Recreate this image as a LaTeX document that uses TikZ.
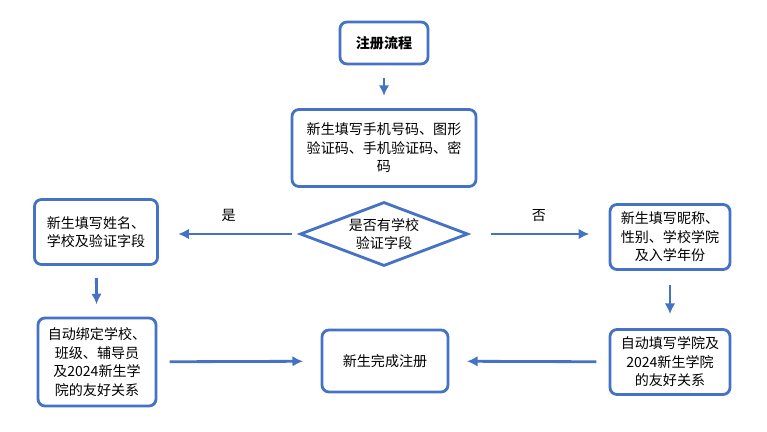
\documentclass[tikz,border=0pt]{standalone}
\usepackage{fontspec}
\newfontfamily\cjk{Noto Sans CJK SC}
\usetikzlibrary{shapes.geometric,arrows.meta}
\definecolor{boxblue}{HTML}{4472C4}

\begin{document}
\begin{tikzpicture}[x=0.02cm, y=-0.02cm, >={Latex[length=6pt,width=6pt]},
  box/.style={draw=boxblue, line width=1.6pt, rounded corners=4pt, align=center,
    inner sep=2pt, font=\cjk\fontsize{8}{10.5}\selectfont},
  arr/.style={->, draw=boxblue, line width=1.6pt, shorten >=7pt, shorten <=7pt},
  lbl/.style={font=\cjk\fontsize{8}{10}\selectfont, text=black}]
\useasboundingbox (0,0) rectangle (767,432);
%nodes
\node[box, minimum width=88*0.02cm, minimum height=42*0.02cm, font=\cjk\bfseries\fontsize{8}{10.5}\selectfont] (start) at (384,43) {注册流程};
\node[box, minimum width=184*0.02cm, minimum height=77*0.02cm] (fill) at (384,148) {新生填写手机号码、图形\\验证码、手机验证码、密\\码};
\node[box, diamond, rounded corners=0pt, aspect=2.6, minimum width=168*0.02cm, minimum height=64*0.02cm, inner sep=0pt] (check) at (384,234) {是否有学校\\验证字段};
\node[box, minimum width=123*0.02cm, minimum height=65*0.02cm] (left1) at (96,232) {新生填写姓名、\\学校及验证字段};
\node[box, minimum width=120*0.02cm, minimum height=65*0.02cm] (right1) at (670,237) {新生填写昵称、\\性别、学校学院\\及入学年份};
\node[box, minimum width=118*0.02cm, minimum height=88*0.02cm] (left2) at (97,362) {自动绑定学校、\\班级、辅导员\\及2024新生学\\院的友好关系};
\node[box, minimum width=126*0.02cm, minimum height=62*0.02cm] (done) at (385,361) {新生完成注册};
\node[box, minimum width=120*0.02cm, minimum height=65*0.02cm] (right2) at (670,362) {自动填写学院及\\2024新生学院\\的友好关系};
\coordinate (yes) at (left1.east |- check);
\coordinate (no) at (right1.west |- check);
%connectors
\draw[arr, shorten <=4pt, shorten >=11pt] (check) -- node[above=3pt, lbl] {是} (yes);
\draw[arr, shorten <=12pt, shorten >=11pt] (check) -- node[above=3pt, lbl] {否} (no);
\draw[arr] (start) -- (fill);
\draw[arr] (left1) -- (left2);
\draw[arr, shorten <=8pt, shorten >=8pt] (right1) -- (right2);
\draw[arr, shorten <=7pt, shorten >=10pt] (left2) -- (done);
\draw[arr, shorten <=7pt, shorten >=10pt] (right2) -- (done);
\end{tikzpicture}
\end{document}
